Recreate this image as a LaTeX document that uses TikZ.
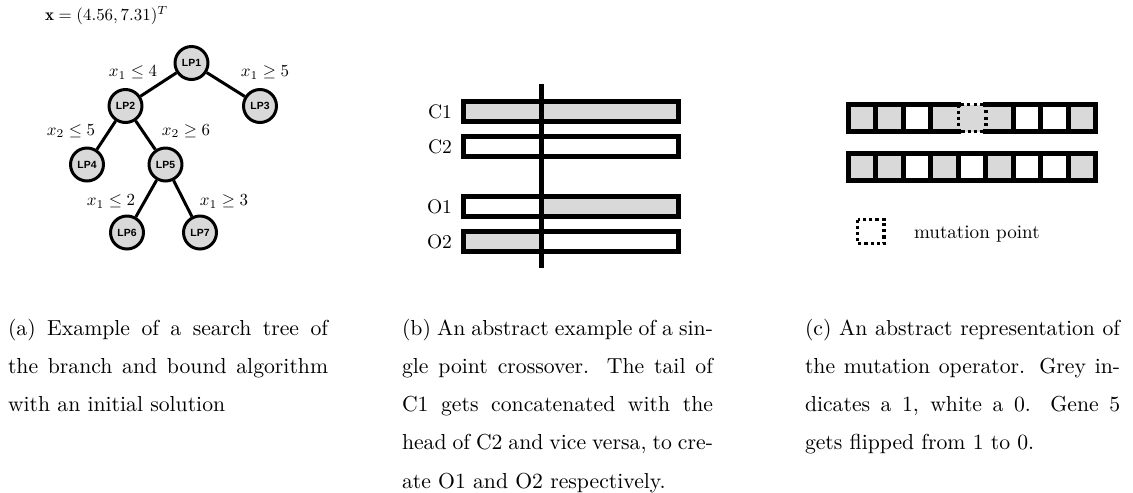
\documentclass[tikz,border=0pt]{standalone}
\usepackage{graphicx}
\usepackage{amsmath}
\usepackage{fontspec}
\newfontfamily\lpfont{Liberation Sans}
\definecolor{gfill}{HTML}{D9D9D9}
\tikzset{
  lp/.style={circle, draw=black, line width=1.38pt, fill=gfill, minimum size=15.2pt, inner sep=0pt,
    font={\lpfont\bfseries\fontsize{4.8pt}{5pt}\selectfont}},
  treeedge/.style={line width=1.38pt},
  lbl/.style={inner sep=0pt, outer sep=0pt},
  barline/.style={line width=2.2pt},
  divider/.style={line width=2.15pt},
  cell/.style={line width=2.15pt},
  dotbox/.style={line width=1.6pt, dash pattern=on 1.4pt off 1.4pt},
}
\newcommand{\capline}[2]{\hbox to #1{#2}}
\begin{document}
\begin{tikzpicture}[x=0.4608pt, y=-0.4608pt]
\useasboundingbox (0,0) rectangle (1133,492);
\fill[white] (0,0) rectangle (1133,492);

% ---------- (a) tree ----------
\node[lbl, anchor=base west] (xsol) at (45,20.7) {\scalebox{0.78}{$\mathbf{x}=(4.56,7.31)^T$}};
\node[lp] (lp1) at (191.5,63) {LP1};
\node[lp] (lp2) at (125.5,106) {LP2};
\node[lp] (lp3) at (260,106) {LP3};
\node[lp] (lp4) at (87,164.5) {LP4};
\node[lp] (lp5) at (165.5,164.5) {LP5};
\node[lp] (lp6) at (127,232.5) {LP6};
\node[lp] (lp7) at (200,232.5) {LP7};
\draw[treeedge] (lp1) -- (lp2);
\draw[treeedge] (lp1) -- (lp3);
\draw[treeedge] (lp2) -- (lp4);
\draw[treeedge] (lp2) -- (lp5);
\draw[treeedge] (lp5) -- (lp6);
\draw[treeedge] (lp5) -- (lp7);
\node[lbl] (e12) at (133,72.5) {\scalebox{0.78}{$x_1\leq 4$}};
\node[lbl] (e13) at (265,72.5) {\scalebox{0.78}{$x_1\geq 5$}};
\node[lbl] (e24) at (71,131) {\scalebox{0.78}{$x_2\leq 5$}};
\node[lbl] (e25) at (186,131) {\scalebox{0.78}{$x_2\geq 6$}};
\node[lbl] (e56) at (111,201.7) {\scalebox{0.78}{$x_1\leq 2$}};
\node[lbl] (e57) at (224,201.7) {\scalebox{0.78}{$x_1\geq 3$}};

% ---------- (b) crossover ----------
% C1
\fill[gfill] (463.3,101.8) rectangle (678.3,121.7);
\draw[barline] (463.3,101.8) rectangle (678.3,121.7);
% C2
\draw[barline] (463.3,136.5) rectangle (678.3,156.8);
% O1
\fill[gfill] (541.8,196.5) rectangle (678.3,216.7);
\draw[barline] (463.3,196.5) rectangle (678.3,216.7);
% O2
\fill[gfill] (463.3,231.7) rectangle (541.8,251.7);
\draw[barline] (463.3,231.7) rectangle (678.3,251.7);
\coordinate (dtop) at (541.8,84);
\coordinate (dbot) at (541.8,268.3);
\draw[divider] (dtop) -- (dbot);
\node[lbl, anchor=east] (c1) at (452,111.8) {\scalebox{0.9}{C1}};
\node[lbl, anchor=east] (c2) at (452,146.6) {\scalebox{0.9}{C2}};
\node[lbl, anchor=east] (o1) at (452,206.6) {\scalebox{0.9}{O1}};
\node[lbl, anchor=east] (o2) at (452,241.7) {\scalebox{0.9}{O2}};

% ---------- (c) mutation ----------
\foreach \i in {0,1,3,4,5,8}
  \fill[gfill] ({848.3+27.5*\i},104.5) rectangle ({848.3+27.5*(\i+1)},131.7);
\foreach \i in {0,1,3,5,8}
  \fill[gfill] ({848.3+27.5*\i},153.3) rectangle ({848.3+27.5*(\i+1)},180.5);
\foreach \i in {0,...,8}
  \draw[cell] ({848.3+27.5*\i},153.3) rectangle ({848.3+27.5*(\i+1)},180.5);
\foreach \i in {0,1,2,6,7,8}
  \draw[cell] ({848.3+27.5*\i},104.5) rectangle ({848.3+27.5*(\i+1)},131.7);
\draw[cell, line cap=rect] (958.3,104.5) -- (930.8,104.5) -- (930.8,131.7) -- (958.3,131.7);
\draw[cell, line cap=rect] (985.8,104.5) -- (1013.3,104.5) -- (1013.3,131.7) -- (985.8,131.7);
\draw[dotbox] (958.3,104.5) rectangle (985.8,131.7);
% legend
\draw[dotbox] (857.7,219.7) rectangle (884,243.3);
\node[lbl, anchor=base west] (mp) at (914,238.3) {\scalebox{0.88}{mutation point}};

% ---------- captions ----------
\node[lbl, anchor=base west] (capa) at (8,335) {\parbox[t]{147.5pt}{\baselineskip=17.65pt
\capline{147.5pt}{(a) Example of a search tree of}
\capline{147.5pt}{the branch and bound algorithm}
\hbox{with an initial solution}}};
\node[lbl, anchor=base west] (capb) at (402,335) {\parbox[t]{143.3pt}{\baselineskip=17.65pt
\capline{143.3pt}{(b) An abstract example of a sin-}
\capline{143.3pt}{gle point crossover. The tail of}
\capline{143.3pt}{C1 gets concatenated with the}
\capline{143.3pt}{head of C2 and vice versa, to cre-}
\hbox{ate O1 and O2 respectively.}}};
\node[lbl, anchor=base west] (capc) at (805,335) {\parbox[t]{145.2pt}{\baselineskip=17.65pt
\capline{145.2pt}{(c) An abstract representation of}
\capline{145.2pt}{the mutation operator. Grey in-}
\capline{145.2pt}{dicates a 1, white a 0. Gene 5}
\hbox{gets flipped from 1 to 0.}}};
\end{tikzpicture}
\end{document}
